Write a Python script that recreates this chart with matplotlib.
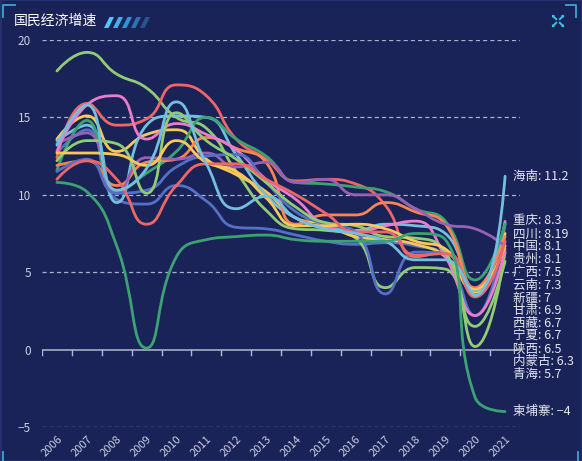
import math
import matplotlib
matplotlib.use("Agg")
import matplotlib.pyplot as plt
from matplotlib.path import Path
from matplotlib.patches import PathPatch, Polygon, Rectangle
from matplotlib.lines import Line2D

plt.rcParams['font.family'] = ['Noto Sans CJK SC', 'DejaVu Sans']
plt.rcParams['axes.unicode_minus'] = True

# 数据
years = [str(y) for y in range(2006, 2022)]
zhongguo  = [12.7, 14.2, 9.7, 9.4, 10.6, 9.6, 7.9, 7.8, 7.4, 7.0, 6.8, 6.9, 6.7, 6.0, 2.2, 8.1]
neimenggu = [18.0, 19.2, 17.8, 16.9, 15.0, 14.3, 11.5, 9.0, 7.8, 7.7, 7.2, 4.0, 5.3, 5.2, 0.2, 6.3]
guangxi   = [13.6, 15.1, 12.8, 13.9, 14.2, 12.3, 11.3, 10.2, 8.5, 8.1, 7.3, 7.1, 6.8, 6.0, 3.7, 7.5]
chongqing = [12.4, 15.9, 14.5, 14.9, 17.1, 16.4, 13.6, 12.3, 10.9, 11.0, 10.7, 9.3, 6.0, 6.3, 3.9, 8.3]
sichuan   = [13.5, 14.5, 9.5, 14.5, 15.1, 15.0, 12.6, 10.0, 8.5, 7.9, 7.7, 8.1, 8.0, 7.5, 3.8, 8.19]
guizhou   = [11.6, 14.8, 10.2, 11.4, 12.8, 15.0, 13.6, 12.5, 10.8, 10.7, 10.5, 10.2, 9.1, 8.3, 4.5, 8.1]
yunnan    = [11.9, 12.2, 10.6, 12.1, 12.3, 13.7, 13.0, 12.1, 8.1, 8.7, 8.7, 9.5, 8.9, 8.1, 4.0, 7.3]
xizang    = [13.3, 14.0, 10.1, 12.4, 12.3, 12.7, 11.8, 12.1, 10.8, 11.0, 10.0, 10.0, 9.1, 8.1, 7.8, 6.7]
shaanxi   = [12.8, 15.8, 16.4, 13.6, 14.6, 13.9, 12.9, 11.0, 9.7, 8.0, 7.6, 8.0, 8.3, 6.0, 2.2, 6.5]
gansu     = [11.5, 12.3, 10.1, 10.3, 11.8, 12.5, 12.6, 10.8, 8.9, 8.1, 7.6, 3.6, 6.3, 6.2, 3.9, 6.9]
qinghai   = [12.2, 13.5, 13.3, 10.1, 15.3, 13.5, 12.3, 10.8, 9.2, 8.2, 8.0, 7.3, 7.2, 6.3, 1.5, 5.7]
ningxia   = [12.7, 12.7, 12.6, 11.9, 13.5, 12.1, 11.5, 9.8, 8.0, 8.0, 8.1, 7.8, 7.0, 6.5, 3.9, 6.7]
xinjiang  = [11.0, 12.2, 11.0, 8.1, 10.6, 12.0, 12.0, 11.0, 10.0, 8.8, 7.6, 7.6, 6.1, 6.2, 3.4, 7]
hainan    = [13.2, 15.8, 10.3, 11.7, 16.0, 12.0, 9.1, 9.9, 8.5, 7.8, 7.5, 7.0, 5.8, 5.8, 3.5, 11.2]
jianpuzhai = [10.8, 10.2, 6.7, 0.1, 6.0, 7.1, 7.3, 7.4, 7.1, 7.0, 7.0, 7.0, 7.5, 7.1, -3.1, -4]

names = ['中国', '内蒙古', '广西', '重庆', '四川', '贵州', '云南', '西藏',
         '陕西', '甘肃', '青海', '宁夏', '新疆', '海南', '柬埔寨']
series = [zhongguo, neimenggu, guangxi, chongqing, sichuan, guizhou, yunnan, xizang,
          shaanxi, gansu, qinghai, ningxia, xinjiang, hainan, jianpuzhai]
palette = ['#5470c6', '#91cc75', '#fac858', '#ee6666', '#73c0de',
           '#3ba272', '#fc8452', '#9a60b4', '#ea7ccc']

W, H = 582, 461
BG = '#1a2358'
fig = plt.figure(figsize=(W / 100, H / 100), dpi=100, facecolor=BG)

L, R, T, B = 42, 520, 40, 427
ax = fig.add_axes([L / W, (H - B) / H, (R - L) / W, (B - T) / H])
ax.set_facecolor(BG)
ax.set_xlim(-0.5, 15.5)
ax.set_ylim(-5, 20)
SX = (R - L) / 16.0   # px / 年
SY = (B - T) / 25.0   # px / 单位


def smooth_path(xs, ys, smooth=0.5):
    # 类似 echarts 的平滑 (贝塞尔控制点在像素空间里计算)
    pts = [(x * SX, y * SY) for x, y in zip(xs, ys)]
    verts = [pts[0]]
    codes = [Path.MOVETO]
    cp0 = pts[0]
    n = len(pts)
    for i in range(1, n):
        x, y = pts[i]
        px_, py_ = pts[i - 1]
        ncp = (x, y)
        if i + 1 < n:
            nx, ny = pts[i + 1]
            vx, vy = nx - px_, ny - py_
            d0 = math.hypot(x - px_, y - py_)
            d1 = math.hypot(nx - x, ny - y)
            r = d1 / (d0 + d1)
            ncx = x + vx * smooth * r
            ncy = y + vy * smooth * r
            ncx = max(min(ncx, max(nx, x)), min(nx, x))
            ncy = max(min(ncy, max(ny, y)), min(ny, y))
            vx, vy = ncx - x, ncy - y
            c1x = x - vx * d0 / d1
            c1y = y - vy * d0 / d1
            c1x = max(min(c1x, max(px_, x)), min(px_, x))
            c1y = max(min(c1y, max(py_, y)), min(py_, y))
            vx, vy = x - c1x, y - c1y
            ncp = (x + vx * d1 / d0, y + vy * d1 / d0)
        else:
            c1x, c1y = x, y
        verts += [cp0, (c1x, c1y), (x, y)]
        codes += [Path.CURVE4] * 3
        cp0 = ncp
    verts = [(vx_ / SX, vy_ / SY) for vx_, vy_ in verts]
    return Path(verts, codes)


# 网格
plt.rcParams['lines.scale_dashes'] = False
for v in [20, 15, 10, 5, -5]:
    ax.axhline(v, color='#aab0cc', lw=0.9, dashes=(3, 2.2), zorder=1)
ax.axhline(0, color='#b4b9d3', lw=1.1, zorder=2)
for k in range(17):
    ax.plot([k - 0.5, k - 0.5], [0, -5 / SY], color='#b4b9d3', lw=1.0, zorder=2)

xs = list(range(len(years)))
for i, vals in enumerate(series):
    c = palette[i % len(palette)]
    p = PathPatch(smooth_path(xs, vals), fill=False, edgecolor=c, lw=2.0,
                  capstyle='round', joinstyle='round', zorder=3 + i * 0.01)
    ax.add_patch(p)

# 末端标签 (防重叠向下排列)
order = sorted(range(len(series)), key=lambda k: -series[k][-1])
gap = 12.8 / SY
prev = None
for k in order:
    v = series[k][-1]
    yl = v if prev is None else min(v, prev - gap)
    prev = yl
    txt = f"{names[k]}: {v:g}".replace('-', '\u2212')
    ax.text(15 + 8 / SX, yl, txt, color='#e4e6ef', fontsize=9, va='center',
            ha='left', clip_on=False, zorder=10)

ax.set_xticks(xs)
ax.set_xticklabels(years, rotation=45, ha='right', rotation_mode='anchor',
                   fontsize=8, color='#c9cde0')
ax.set_yticks([-5, 0, 5, 10, 15, 20])
ax.set_yticklabels(['\u22125', '0', '5', '10', '15', '20'], fontsize=8.5, color='#c9cde0')
ax.tick_params(axis='x', length=0, pad=5)
ax.tick_params(axis='y', length=0, pad=8)
for s in ax.spines.values():
    s.set_visible(False)


def fp(x, y):
    return (x / W, 1 - y / H)


# 标题和装饰
fig.text(14 / W, 1 - 21 / H, '国民经济增速', color='#ffffff', fontsize=10,
         va='center', ha='left')
stripe_cols = ['#4cc9f5', '#40b2e8', '#3592d0', '#2f72b2', '#2a538c']
for k, c in enumerate(stripe_cols):
    x0 = 104 + 9 * k
    pts = [fp(x0, 28), fp(x0 + 4.5, 28), fp(x0 + 10, 17), fp(x0 + 5.5, 17)]
    fig.patches.append(Polygon(pts, closed=True, facecolor=c, edgecolor='none',
                               transform=fig.transFigure))

fig.patches.append(Rectangle((0.5 / W, 0.5 / H), 1 - 1 / W, 1 - 1 / H, fill=False,
                             edgecolor='#26336f', lw=1.2, transform=fig.transFigure))
cyan = '#3aa6d6'
for xa, ya in [([3, 3, 15], [17, 5, 5]), ([566, 576, 576], [5, 5, 17]),
               ([3, 3], [452, 461]), ([578, 578], [452, 461])]:
    fig.lines.append(Line2D([x / W for x in xa], [1 - y / H for y in ya], color=cyan,
                            lw=1.3, transform=fig.transFigure))

# 右上角图标
cx, cy = 558, 21
icon = '#3fc1e8'
for dx, dy in [(-1, -1), (1, -1), (-1, 1), (1, 1)]:
    fig.lines.append(Line2D([(cx + dx * 1.8) / W, (cx + dx * 5) / W],
                            [1 - (cy + dy * 1.8) / H, 1 - (cy + dy * 5) / H],
                            color=icon, lw=1.4, transform=fig.transFigure))
    tip = fp(cx + dx * 6, cy + dy * 6)
    a = fp(cx + dx * 6, cy + dy * 3)
    b = fp(cx + dx * 3, cy + dy * 6)
    fig.patches.append(Polygon([tip, a, b], closed=True, facecolor=icon,
                               edgecolor='none', transform=fig.transFigure))

fig.savefig('out.png', dpi=100, facecolor=BG)
